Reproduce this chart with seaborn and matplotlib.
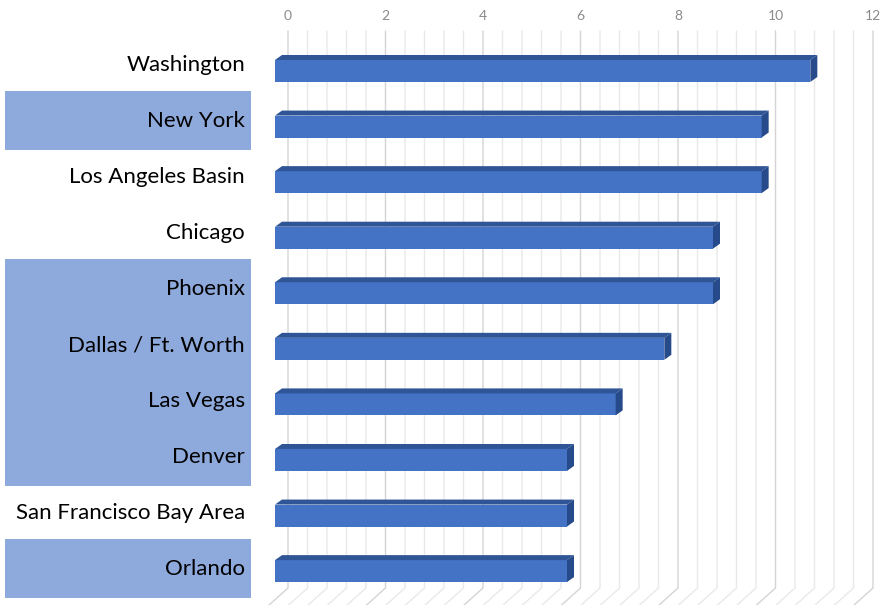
import numpy as np
import pandas as pd
import matplotlib
matplotlib.use("Agg")
import matplotlib.pyplot as plt
from matplotlib.patches import Polygon, Rectangle
import seaborn as sns

cities = ["Washington", "New York", "Los Angeles Basin", "Chicago", "Phoenix",
          "Dallas / Ft. Worth", "Las Vegas", "Denver", "San Francisco Bay Area", "Orlando"]
values = [11, 10, 10, 9, 9, 8, 7, 6, 6, 6]
highlighted = [False, True, False, False, True, True, True, True, False, True]
tick_values = [0, 2, 4, 6, 8, 10, 12]

sns.set_theme(style="white")
plt.rcParams['font.family'] = ['Lato', 'DejaVu Sans']

W, H = 881, 605
fig = plt.figure(figsize=(W / 100, H / 100), dpi=100)
fig.patch.set_facecolor("white")

# ---- background wall with gridlines and top ticks ----
ax_bg = fig.add_axes([288 / W, 0, 585 / W, (H - 28) / H])
ax_bg.set_xlim(0, 12)
ax_bg.set_ylim(H, 28)
ax_bg.patch.set_alpha(0)
for s in ax_bg.spines.values():
    s.set_visible(False)
ax_bg.xaxis.tick_top()
ax_bg.set_xticks(tick_values)
ax_bg.set_xticklabels([str(t) for t in tick_values], color="#8a8a8a", fontsize=10)
ax_bg.tick_params(axis="x", length=0, pad=4)
ax_bg.set_yticks([])
slant = 20 / 48.75
for k in range(0, 31):
    gx = k * 0.4
    major = (k % 5 == 0)
    ax_bg.plot([gx, gx, gx - slant], [31, 588, 606],
               color="#d4d4d4" if major else "#e9e9e9", lw=1.0, clip_on=False,
               solid_joinstyle="miter")

# ---- bars ----
ax = fig.add_axes([275 / W, 0, 584 / W, 1])
ax.patch.set_alpha(0)
df = pd.DataFrame({"city": cities, "value": values})
sns.barplot(data=df, y="city", x="value", orient="h", color="#4472C4",
            saturation=1, width=0.395, ax=ax, linewidth=0)
ax.set_xlim(0, 12)
ax.set_ylim(9.61, -1.277)
ax.axis("off")

dx = 7 / 48.7
dy = 5 / 55.6
for p in ax.patches:
    x0 = p.get_x()
    x1 = x0 + p.get_width()
    yt = p.get_y()
    yb = yt + p.get_height()
    top = Polygon([(x0, yt), (x1, yt), (x1 + dx, yt - dy), (x0 + dx, yt - dy)],
                  closed=True, facecolor="#2F5597", edgecolor="none")
    side = Polygon([(x1, yt), (x1 + dx, yt - dy), (x1 + dx, yb - dy), (x1, yb)],
                   closed=True, facecolor="#264A8A", edgecolor="none")
    ax.add_patch(top)
    ax.add_patch(side)

# ---- category labels with highlight boxes ----
ax_lab = fig.add_axes([0, 0, 275 / W, 1])
ax_lab.set_xlim(0, 275)
ax_lab.set_ylim(H, 0)
ax_lab.axis("off")
for i, (c, h) in enumerate(zip(cities, highlighted)):
    cy = 65 + 56 * i
    if h:
        ax_lab.add_patch(Rectangle((5, cy - 30), 246, 59, facecolor="#8EA9DB",
                                   edgecolor="none"))
    ax_lab.text(245, cy, c, ha="right", va="center", fontsize=16, color="#000000")

fig.savefig("out.png", dpi=100, facecolor="white")
